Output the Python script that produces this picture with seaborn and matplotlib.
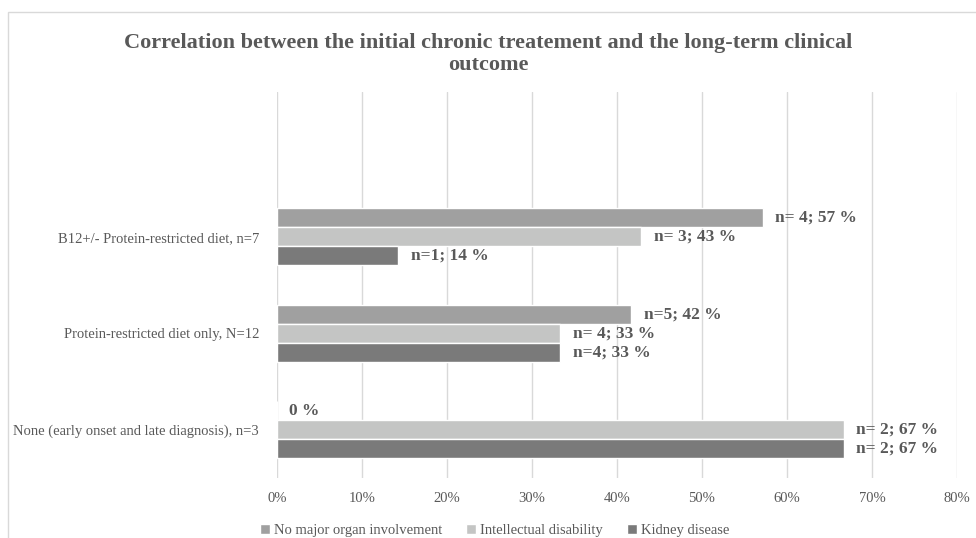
import pandas as pd
import seaborn as sns
from matplotlib import pyplot as plt
from matplotlib.patches import Rectangle
from matplotlib.ticker import PercentFormatter

# Dados do gráfico
categorias = ["B12+/- Protein-restricted diet, n=7",
              "Protein-restricted diet only, N=12",
              "None (early onset and late diagnosis), n=3"]
desfechos = ["No major organ involvement", "Intellectual disability", "Kidney disease"]
valores_sem_orgao = [4 / 7, 5 / 12, 0.0]
valores_intelectual = [3 / 7, 4 / 12, 2 / 3]
valores_rim = [1 / 7, 4 / 12, 2 / 3]
rotulos_sem_orgao = ["n= 4; 57 %", "n=5; 42 %", "0 %"]
rotulos_intelectual = ["n= 3; 43 %", "n= 4; 33 %", "n= 2; 67 %"]
rotulos_rim = ["n=1; 14 %", "n=4; 33 %", "n= 2; 67 %"]
ticks_x = [0, 0.1, 0.2, 0.3, 0.4, 0.5, 0.6, 0.7, 0.8]

cores = ["#a0a0a0", "#c4c5c4", "#7a7a7a"]
cinza_texto = "#595959"

df = pd.DataFrame({
    "categoria": categorias * 3,
    "desfecho": [d for d in desfechos for _ in categorias],
    "valor": valores_sem_orgao + valores_intelectual + valores_rim,
})

sns.set_theme(style="white")
plt.rcParams['font.family'] = ['Liberation Serif', 'DejaVu Serif']

fig = plt.figure(figsize=(9.76, 5.38), dpi=100)
ax = fig.add_axes([0.2838, 0.1115, 0.6967, 0.7175])

sns.barplot(data=df, x="valor", y="categoria", hue="desfecho", order=categorias,
            hue_order=desfechos, palette=cores, orient="h", width=0.59,
            saturation=1, ax=ax, legend=True)

# Rótulos das barras
for container, rotulos in zip(ax.containers, [rotulos_sem_orgao, rotulos_intelectual, rotulos_rim]):
    ax.bar_label(container, labels=rotulos, padding=9, fontsize=12.5,
                 fontweight="bold", color=cinza_texto)

# Eixos
ax.set_xlim(0, 0.8)
ax.set_ylim(2.5, -1.5)
ax.set_xticks(ticks_x)
ax.xaxis.set_major_formatter(PercentFormatter(1.0, decimals=0))
ax.grid(axis="x", color="#d9d9d9", linewidth=1)
ax.set_axisbelow(True)
for s in ax.spines.values():
    s.set_visible(False)
ax.tick_params(axis="both", length=0, labelsize=10.5, labelcolor=cinza_texto)
ax.tick_params(axis="x", pad=10)
ax.tick_params(axis="y", pad=13)
ax.set_xlabel("")
ax.set_ylabel("")

# Legenda
ax.legend(loc="upper center", bbox_to_anchor=(0.32, -0.085), ncol=3, frameon=False,
          fontsize=10.5, labelcolor=cinza_texto, handlelength=0.7, handleheight=0.7,
          handletextpad=0.3, columnspacing=1.6)

# Título
fig.text(0.5, 0.9, "Correlation between the initial chronic treatement and the long-term clinical\noutcome",
         ha="center", va="center", fontsize=16, fontweight="bold", color=cinza_texto,
         linespacing=1.15)

# Borda do gráfico
fig.patches.append(Rectangle((0.008, -0.01), 1.0, 0.988, transform=fig.transFigure,
                             fill=False, edgecolor="#d9d9d9", linewidth=1))

plt.savefig("out.png", dpi=100)
plt.close()
